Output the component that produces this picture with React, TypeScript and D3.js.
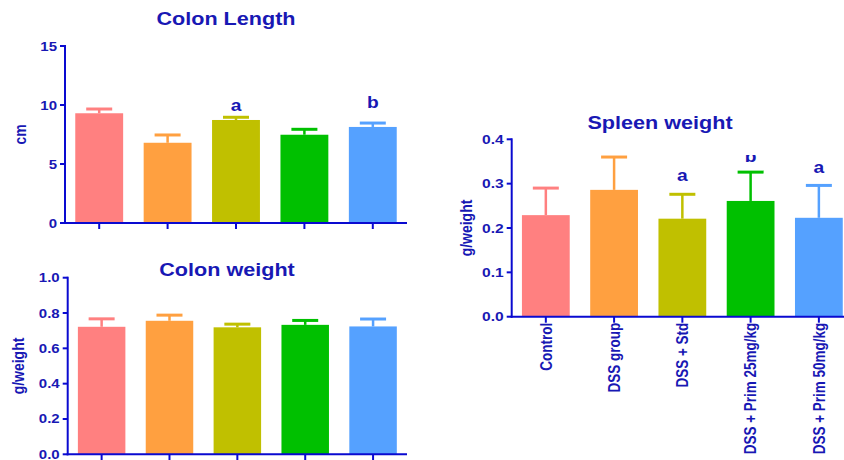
import React from "react";
import * as d3 from "d3";

const groups = ["Control", "DSS group", "DSS + Std", "DSS + Prim 25mg/kg", "DSS + Prim 50mg/kg"];
const colors = ["#FF8080", "#FFA040", "#C0C000", "#00C000", "#55A1FF"];

const lengthMean = [9.3, 6.8, 8.73, 7.48, 8.14];
const lengthErr = [0.36, 0.66, 0.23, 0.46, 0.33];
const lengthTicks = [0, 5, 10, 15];
const lengthLetters = ["", "", "a", "", "b"];
const lengthLetterAt = [0, 0, 9.49, 0, 9.72];

const colonWMean = [0.722, 0.756, 0.719, 0.733, 0.724];
const colonWErr = [0.045, 0.032, 0.018, 0.025, 0.042];
const colonWTicks = [0, 0.2, 0.4, 0.6, 0.8, 1.0];

const spleenMean = [0.229, 0.286, 0.221, 0.261, 0.223];
const spleenErr = [0.061, 0.074, 0.055, 0.065, 0.073];
const spleenTicks = [0, 0.1, 0.2, 0.3, 0.4];
const spleenLetters = ["", "", "a", "b", "a"];
const spleenLetterAt = [0, 0, 0.306, 0.349, 0.325];

const SX = 1.2;
const AXIS = "#0a0ad0";
const TEXT = "#1818b4";
const FONT = "'Liberation Sans', Arial, sans-serif";

type PanelProps = {
  id: string;
  title: string;
  titleX: number;
  titleY: number;
  yLabel: string;
  yLabelX: number;
  yDomain: [number, number];
  yRange: [number, number];
  xRange: [number, number];
  ticks: number[];
  fmt: (v: number) => string;
  tickFont: number;
  means: number[];
  errs: number[];
  letters?: string[];
  letterAt?: number[];
  letterClipTop?: number;
  showXLabels?: boolean;
};

function T(props: {
  x: number;
  y: number;
  size: number;
  anchor?: string;
  rotate?: boolean;
  dy?: string;
  weight?: string;
  children: React.ReactNode;
}) {
  const { x, y, size, anchor = "middle", rotate = false, dy, weight = "bold", children } = props;
  return (
    <text
      transform={`translate(${x},${y}) scale(${SX},1)${rotate ? " rotate(-90)" : ""}`}
      textAnchor={anchor}
      dy={dy}
      fontFamily={FONT}
      fontWeight={weight}
      fontSize={size}
      fill={TEXT}
    >
      {children}
    </text>
  );
}

function Panel(p: PanelProps) {
  const y = d3.scaleLinear().domain(p.yDomain).range(p.yRange);
  const x = d3
    .scaleBand<string>()
    .domain(groups)
    .range(p.xRange)
    .paddingInner(0.3)
    .paddingOuter(0.15);
  const bw = x.bandwidth();
  const y0 = y(0);
  const axX = p.xRange[0];
  const capW = 26;
  return (
    <g>
      {p.means.map((m, i) => {
        const cx = (x(groups[i]) as number) + bw / 2;
        const top = y(m);
        const capY = y(m + p.errs[i]);
        return (
          <g key={i}>
            <line x1={cx} x2={cx} y1={top} y2={capY} stroke={colors[i]} strokeWidth={2.5} />
            <line x1={cx - capW / 2} x2={cx + capW / 2} y1={capY} y2={capY} stroke={colors[i]} strokeWidth={3} />
            <rect x={x(groups[i])} y={top} width={bw} height={y0 - top} fill={colors[i]} />
          </g>
        );
      })}
      {/* y axis */}
      <line x1={axX} x2={axX} y1={y(p.yDomain[1]) - 1} y2={y0 + 1} stroke={AXIS} strokeWidth={2} />
      {p.ticks.map((t) => (
        <g key={t}>
          <line x1={axX - 5} x2={axX} y1={y(t)} y2={y(t)} stroke={AXIS} strokeWidth={2} />
          <T x={axX - 8} y={y(t)} size={p.tickFont} anchor="end" dy="0.36em">
            {p.fmt(t)}
          </T>
        </g>
      ))}
      {/* x axis */}
      <line x1={axX - 1} x2={p.xRange[1]} y1={y0} y2={y0} stroke={AXIS} strokeWidth={2} />
      {groups.map((g) => {
        const cx = (x(g) as number) + bw / 2;
        return (
          <g key={g}>
            <line x1={cx} x2={cx} y1={y0} y2={y0 + 6} stroke={AXIS} strokeWidth={2} />
            {p.showXLabels && (
              <T x={cx} y={y0 + 6} size={13.5} anchor="end" rotate dy="0.36em">
                {g}
              </T>
            )}
          </g>
        );
      })}
      {/* letters */}
      {p.letters && (
        <g clipPath={p.letterClipTop !== undefined ? `url(#clip-${p.id})` : undefined}>
          {p.letterClipTop !== undefined && (
            <defs>
              <clipPath id={`clip-${p.id}`}>
                <rect x={0} y={p.letterClipTop} width={844} height={460} />
              </clipPath>
            </defs>
          )}
          {p.letters.map((l, i) =>
            l ? (
              <T key={i} x={(x(groups[i]) as number) + bw / 2} y={y(p.letterAt![i])} size={16}>
                {l}
              </T>
            ) : null
          )}
        </g>
      )}
      <T x={p.titleX} y={p.titleY} size={18}>
        {p.title}
      </T>
      <T x={p.yLabelX} y={(p.yRange[0] + p.yRange[1]) / 2} size={14} rotate dy="0.36em">
        {p.yLabel}
      </T>
    </g>
  );
}

export default function App() {
  return (
    <div style={{ position: "fixed", left: 0, top: 0 }}>
      <svg width={844} height={460} style={{ display: "block", background: "#fff" }}>
        <Panel
          id="len"
          title="Colon Length"
          titleX={226}
          titleY={25}
          yLabel="cm"
          yLabelX={20}
          yDomain={[0, 15]}
          yRange={[223, 46]}
          xRange={[65, 407]}
          ticks={lengthTicks}
          fmt={(v) => d3.format("d")(v)}
          tickFont={12.5}
          means={lengthMean}
          errs={lengthErr}
          letters={lengthLetters}
          letterAt={lengthLetterAt}
        />
        <Panel
          id="cw"
          title="Colon weight"
          titleX={227}
          titleY={276}
          yLabel="g/weight"
          yLabelX={18}
          yDomain={[0, 1]}
          yRange={[454.3, 277.7]}
          xRange={[67.7, 407]}
          ticks={colonWTicks}
          fmt={(v) => d3.format(".1f")(v)}
          tickFont={12.5}
          means={colonWMean}
          errs={colonWErr}
        />
        <Panel
          id="sp"
          title="Spleen weight"
          titleX={660}
          titleY={129}
          yLabel="g/weight"
          yLabelX={466}
          yDomain={[0, 0.4]}
          yRange={[316.7, 139.3]}
          xRange={[511.7, 853]}
          ticks={spleenTicks}
          fmt={(v) => d3.format(".1f")(v)}
          tickFont={13}
          means={spleenMean}
          errs={spleenErr}
          letters={spleenLetters}
          letterAt={spleenLetterAt}
          letterClipTop={155}
          showXLabels
        />
      </svg>
    </div>
  );
}
